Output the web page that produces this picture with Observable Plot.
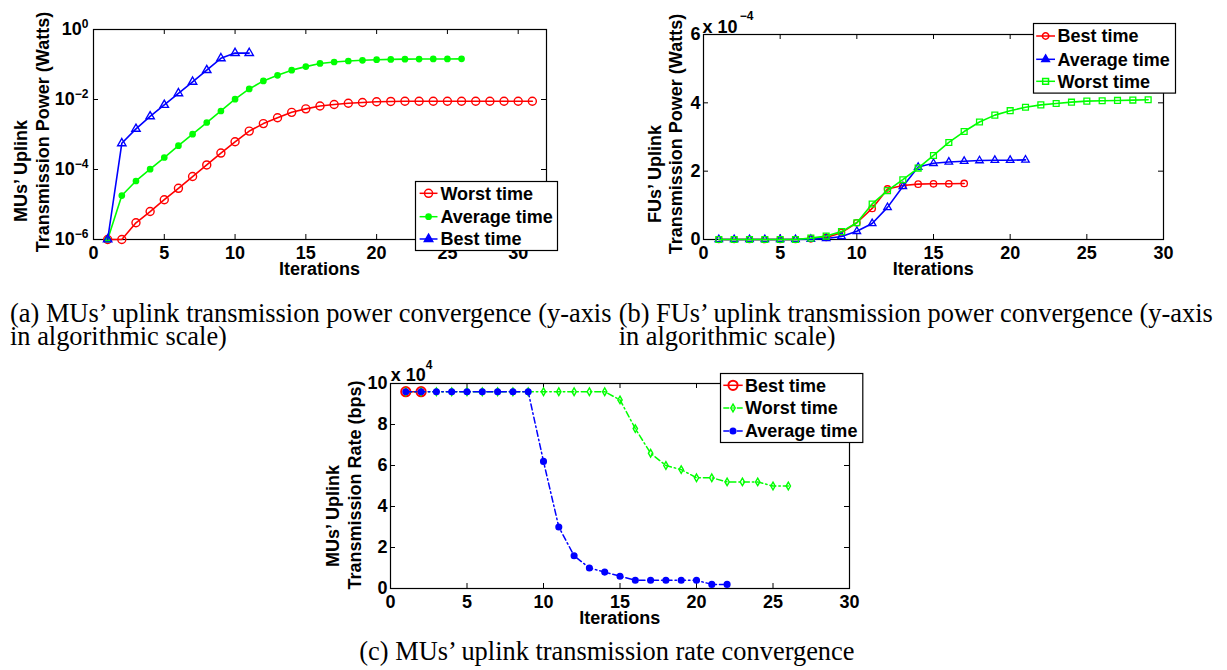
<!DOCTYPE html>
<html><head><meta charset="utf-8">
<script src="https://cdn.jsdelivr.net/npm/d3@7"></script>
<script src="https://cdn.jsdelivr.net/npm/@observablehq/plot@0.6"></script>
<style>
body{margin:0;background:#fff;}
#fig{position:relative;width:1227px;height:670px;overflow:hidden;background:#fff;font-family:"Liberation Sans",Arial,sans-serif;color:#000;}
.abs{position:absolute;overflow:visible;}
.lbl{position:absolute;font-weight:bold;font-size:18px;white-space:nowrap;line-height:13px;transform:translate(-50%,-50%);}
.sup{font-size:12px;line-height:9px;}
.ylbl{transform:translate(-50%,-50%) rotate(-90deg);}
.cap{position:absolute;font-family:"Liberation Serif","Times New Roman",serif;font-size:26.4px;line-height:23px;white-space:nowrap;color:#000;}
</style></head><body><div id="fig"></div><script>
// ---------- shared ----------
const xTicks = [0, 5, 10, 15, 20, 25, 30];

// ---------- (a) MUs' uplink transmission power (Watts), log scale ----------
const aLabels = ["Worst time", "Average time", "Best time"];
const aWorst = [1e-6, 1e-6, 3.0e-6, 6.3e-6, 1.37e-5, 2.9e-5, 6.3e-5, 1.35e-4, 2.95e-4, 6.2e-4,
  1.25e-3, 2.05e-3, 3.0e-3, 4.3e-3, 5.4e-3, 6.5e-3, 7.2e-3, 7.8e-3, 8.2e-3, 8.6e-3,
  8.8e-3, 8.9e-3, 8.9e-3, 8.9e-3, 8.9e-3, 8.9e-3, 8.9e-3, 8.9e-3, 8.9e-3, 8.9e-3, 8.9e-3];
const aAverage = [1e-6, 1.8e-5, 4.7e-5, 1.02e-4, 2.2e-4, 4.8e-4, 1.02e-3, 2.2e-3, 4.7e-3, 1.02e-2,
  2.0e-2, 3.4e-2, 4.9e-2, 6.9e-2, 8.7e-2, 0.107, 0.118, 0.126, 0.132, 0.137,
  0.140, 0.142, 0.143, 0.144, 0.144, 0.145];
const aBest = [1e-6, 5.6e-4, 1.45e-3, 3.3e-3, 7.0e-3, 1.5e-2, 3.2e-2, 6.9e-2, 0.15, 0.212, 0.212];
const aYTicks = [1, 1e-2, 1e-4, 1e-6];

// ---------- (b) FUs' uplink transmission power (x 10^-4 Watts) ----------
const bLabels = ["Best time", "Average time", "Worst time"];
const bBest = [0, 0, 0, 0, 0, 0, 0.02, 0.06, 0.2, 0.49, 0.91, 1.48, 1.58, 1.62, 1.63, 1.63, 1.64];
const bAverage = [0, 0, 0, 0, 0, 0, 0.01, 0.03, 0.09, 0.24, 0.47, 0.94, 1.55, 2.12, 2.23, 2.27, 2.29, 2.31, 2.32, 2.32, 2.33];
const bWorst = [0, 0, 0, 0, 0, 0, 0.04, 0.1, 0.23, 0.49, 1.04, 1.43, 1.75, 2.09, 2.46, 2.84, 3.16, 3.44, 3.64, 3.77,
  3.87, 3.94, 3.98, 4.02, 4.05, 4.06, 4.07, 4.08, 4.09];
const bYTicks = [0, 2, 4, 6];

// ---------- (c) MUs' uplink transmission rate (x 10^4 bps) ----------
const cLabels = ["Best time", "Worst time", "Average time"];
const cBest = [9.6, 9.6];
const cWorst = [9.6, 9.6, 9.6, 9.6, 9.6, 9.6, 9.6, 9.6, 9.6, 9.6, 9.6, 9.6, 9.6, 9.6,
  9.2, 7.8, 6.6, 6.0, 5.8, 5.4, 5.4, 5.2, 5.2, 5.2, 5.0, 5.0];
const cAverage = [9.6, 9.6, 9.6, 9.6, 9.6, 9.6, 9.6, 9.6, 9.6, 6.2, 3.0, 1.6, 1.0, 0.8, 0.6,
  0.4, 0.4, 0.4, 0.4, 0.4, 0.2, 0.2];
const cYTicks = [0, 2, 4, 6, 8, 10];

const RED = "#ff0000", GREEN = "#00ff00", BLUE = "#0000ff";
const DASHDOT = "6,3,1.5,3";
const rows = arr => arr.map((v, i) => ({x: i + 1, y: v}));
const intFmt = d => String(d);

const fig = document.getElementById("fig");
const svgStyle = {background: "none", fontFamily: "'Liberation Sans', Arial, sans-serif", fontSize: "18px", fontWeight: "bold", color: "#000", overflow: "visible"};

function innerTicks(xVals, yVals, plotW, plotH, len) {
  return [
    Plot.tickX(xVals, {x: d => d, insetTop: plotH - len, stroke: "black"}),
    Plot.tickX(xVals, {x: d => d, insetBottom: plotH - len, stroke: "black"}),
    Plot.tickY(yVals, {y: d => d, insetRight: plotW - len, stroke: "black"}),
    Plot.tickY(yVals, {y: d => d, insetLeft: plotW - len, stroke: "black"})
  ];
}
function place(el, left, top) {
  el.style.position = "absolute"; el.style.left = left + "px"; el.style.top = top + "px";
  fig.appendChild(el);
}
function label(text, cx, cy, rot, cls) {
  const d = document.createElement("div");
  d.className = "lbl" + (rot ? " ylbl" : "") + (cls ? " " + cls : "");
  d.textContent = text; d.style.left = cx + "px"; d.style.top = cy + "px";
  fig.appendChild(d);
}
function symbolOf(name) {
  return {circle: d3.symbolCircle, triangle: d3.symbolTriangle, square: d3.symbolSquare, diamond: d3.symbolDiamond}[name];
}
function legend(left, top, w, h, items, rowYs, sx0, sx1, tx) {
  const svg = d3.select(fig).append("svg").attr("class", "abs")
    .style("left", left + "px").style("top", top + "px")
    .attr("width", w + 2).attr("height", h + 2);
  svg.append("rect").attr("x", 0.5).attr("y", 0.5).attr("width", w).attr("height", h)
    .attr("fill", "white").attr("stroke", "black").attr("stroke-width", 1.2);
  items.forEach((it, i) => {
    const y = rowYs[i];
    svg.append("line").attr("x1", sx0).attr("x2", sx1).attr("y1", y).attr("y2", y)
      .attr("stroke", it.color).attr("stroke-width", 1.5).attr("stroke-dasharray", it.dash || null);
    svg.append("path").attr("d", d3.symbol(symbolOf(it.symbol), Math.PI * it.r * it.r)())
      .attr("transform", `translate(${(sx0 + sx1) / 2},${y})`)
      .attr("fill", it.fill).attr("stroke", it.color).attr("stroke-width", it.sw || 1.5);
    svg.append("text").attr("x", tx).attr("y", y).attr("dy", "0.36em")
      .attr("font-family", "'Liberation Sans', Arial, sans-serif").attr("font-weight", "bold")
      .attr("font-size", 18).text(it.label);
  });
}

// ---------- chart (a) ----------
{
  const W = 600, H = 290, mL = 93, mR = 54, mT = 29, mB = 51;
  const pw = W - mL - mR, ph = H - mT - mB;
  const worst = rows(aWorst), avg = rows(aAverage), best = rows(aBest);
  const chart = Plot.plot({
    width: W, height: H, marginLeft: mL, marginRight: mR, marginTop: mT, marginBottom: mB,
    style: svgStyle,
    x: {domain: [0, 32], ticks: xTicks, tickSize: 0, tickPadding: 7, tickFormat: intFmt, label: null},
    y: {type: "log", domain: [1e-6, 1], ticks: aYTicks, tickSize: 0, tickPadding: 5, label: null,
        tickFormat: d => "10^" + Math.round(Math.log10(d))},
    marks: [
      Plot.frame({stroke: "black", strokeWidth: 1.2}),
      ...innerTicks(xTicks, aYTicks, pw, ph, 5),
      Plot.line(worst, {x: "x", y: "y", stroke: RED, strokeWidth: 1.6}),
      Plot.dot(worst, {x: "x", y: "y", r: 4, stroke: RED, fill: "none", strokeWidth: 1.4}),
      Plot.line(avg, {x: "x", y: "y", stroke: GREEN, strokeWidth: 1.6}),
      Plot.dot(avg, {x: "x", y: "y", r: 2.6, fill: GREEN, stroke: GREEN}),
      Plot.line(best, {x: "x", y: "y", stroke: BLUE, strokeWidth: 1.6}),
      Plot.dot(best, {x: "x", y: "y", symbol: "triangle", r: 3.1, stroke: BLUE, fill: "none", strokeWidth: 1.4})
    ]
  });
  // superscript exponents for the log-scale tick labels
  chart.querySelectorAll("text").forEach(t => {
    const s = t.textContent;
    if (!s.startsWith("10^")) return;
    const e = s.slice(3).replace("-", "\u2212");
    t.textContent = "";
    const ns = "http://www.w3.org/2000/svg";
    const b = document.createElementNS(ns, "tspan"); b.textContent = "10"; t.appendChild(b);
    const sp = document.createElementNS(ns, "tspan");
    sp.setAttribute("dy", "-0.6em"); sp.setAttribute("font-size", "12"); sp.textContent = e;
    t.appendChild(sp);
  });
  place(chart, 0, 0);
  label("Iterations", 319.6, 269);
  label("MUs\u2019 Uplink", 21.4, 171, true);
  label("Transmission Power (Watts)", 43, 131.7, true);
  legend(415, 181, 142, 69, [
    {label: aLabels[0], color: RED, symbol: "circle", r: 4, fill: "none"},
    {label: aLabels[1], color: GREEN, symbol: "circle", r: 2.6, fill: GREEN},
    {label: aLabels[2], color: BLUE, symbol: "triangle", r: 3.1, fill: BLUE}
  ], [12.3, 35.7, 58], 4.6, 22.5, 25.4);
}

// ---------- chart (b) ----------
{
  const W = 627, H = 290, mL = 103, mR = 64, mT = 34, mB = 51;
  const pw = W - mL - mR, ph = H - mT - mB;
  const best = rows(bBest), avg = rows(bAverage), worst = rows(bWorst);
  const chart = Plot.plot({
    width: W, height: H, marginLeft: mL, marginRight: mR, marginTop: mT, marginBottom: mB,
    style: svgStyle,
    x: {domain: [0, 30], ticks: xTicks, tickSize: 0, tickPadding: 7, tickFormat: intFmt, label: null},
    y: {domain: [0, 6], ticks: bYTicks, tickSize: 0, tickPadding: 3, tickFormat: intFmt, label: null},
    marks: [
      Plot.frame({stroke: "black", strokeWidth: 1.2}),
      ...innerTicks(xTicks, bYTicks, pw, ph, 5),
      Plot.line(best, {x: "x", y: "y", stroke: RED, strokeWidth: 1.6}),
      Plot.dot(best, {x: "x", y: "y", r: 3.2, stroke: RED, fill: "none", strokeWidth: 1.3}),
      Plot.line(avg, {x: "x", y: "y", stroke: BLUE, strokeWidth: 1.6}),
      Plot.dot(avg, {x: "x", y: "y", symbol: "triangle", r: 2.8, stroke: BLUE, fill: "none", strokeWidth: 1.3}),
      Plot.line(worst, {x: "x", y: "y", stroke: GREEN, strokeWidth: 1.6}),
      Plot.dot(worst, {x: "x", y: "y", symbol: "square", r: 3.3, stroke: GREEN, fill: "none", strokeWidth: 1.3})
    ]
  });
  place(chart, 600, 0);
  label("Iterations", 933.2, 269);
  label("FUs\u2019 Uplink", 655, 174, true);
  label("Transmission Power (Watts)", 676, 134, true);
  label("x 10", 720, 26.7);
  label("\u22124", 746.5, 16, false, "sup");
  legend(1032.8, 22.7, 142, 69.6, [
    {label: bLabels[0], color: RED, symbol: "circle", r: 3.2, fill: "none"},
    {label: bLabels[1], color: BLUE, symbol: "triangle", r: 2.8, fill: BLUE},
    {label: bLabels[2], color: GREEN, symbol: "square", r: 3.3, fill: "none"}
  ], [13, 36.3, 58.3], 3.2, 22, 24.4);
}

// ---------- chart (c) ----------
{
  const W = 600, H = 290, mL = 90, mR = 51, mT = 43, mB = 42;
  const pw = W - mL - mR, ph = H - mT - mB;
  const best = rows(cBest), worst = rows(cWorst), avg = rows(cAverage);
  const chart = Plot.plot({
    width: W, height: H, marginLeft: mL, marginRight: mR, marginTop: mT, marginBottom: mB,
    style: svgStyle,
    x: {domain: [0, 30], ticks: xTicks, tickSize: 0, tickPadding: 7, tickFormat: intFmt, label: null},
    y: {domain: [0, 10], ticks: cYTicks, tickSize: 0, tickPadding: 3, tickFormat: intFmt, label: null},
    marks: [
      Plot.frame({stroke: "black", strokeWidth: 1.2}),
      ...innerTicks(xTicks, cYTicks, pw, ph, 5),
      Plot.line(best, {x: "x", y: "y", stroke: RED, strokeWidth: 1.6}),
      Plot.dot(best, {x: "x", y: "y", r: 4.6, stroke: RED, fill: "none", strokeWidth: 2}),
      Plot.line(worst, {x: "x", y: "y", stroke: GREEN, strokeWidth: 1.5, strokeDasharray: DASHDOT}),
      Plot.dot(worst, {x: "x", y: "y", symbol: "diamond", r: 2.3, stroke: GREEN, fill: "none", strokeWidth: 1.4}),
      Plot.line(avg, {x: "x", y: "y", stroke: BLUE, strokeWidth: 1.5, strokeDasharray: DASHDOT}),
      Plot.dot(avg, {x: "x", y: "y", r: 2.8, fill: BLUE, stroke: BLUE})
    ]
  });
  place(chart, 300, 340);
  label("Iterations", 619.8, 617.5);
  label("MUs\u2019 Uplink", 333, 515.8, true);
  label("Transmission Rate (bps)", 354.6, 485, true);
  label("x 10", 408.3, 375);
  label("4", 429, 365, false, "sup");
  legend(720, 372.7, 142.3, 69, [
    {label: cLabels[0], color: RED, symbol: "circle", r: 4.6, fill: "none", sw: 2},
    {label: cLabels[1], color: GREEN, symbol: "diamond", r: 2.3, fill: "none", dash: DASHDOT},
    {label: cLabels[2], color: BLUE, symbol: "circle", r: 2.8, fill: BLUE, dash: DASHDOT}
  ], [12.3, 35, 58], 3.3, 22.7, 25);
}

// ---------- captions ----------
const captions = [
  {lines: ["(a) MUs\u2019 uplink transmission power convergence (y-axis", "in algorithmic scale)"], left: 10, top: 301.7},
  {lines: ["(b) FUs\u2019 uplink transmission power convergence (y-axis", "in algorithmic scale)"], left: 618.7, top: 301.7},
  {lines: ["(c) MUs\u2019 uplink transmission rate convergence"], left: 359.3, top: 639.7}
];
captions.forEach(c => {
  const d = document.createElement("div");
  d.className = "cap";
  d.style.left = c.left + "px"; d.style.top = c.top + "px";
  c.lines.forEach((l, i) => { if (i) d.appendChild(document.createElement("br")); d.appendChild(document.createTextNode(l)); });
  fig.appendChild(d);
});
</script></body></html>
